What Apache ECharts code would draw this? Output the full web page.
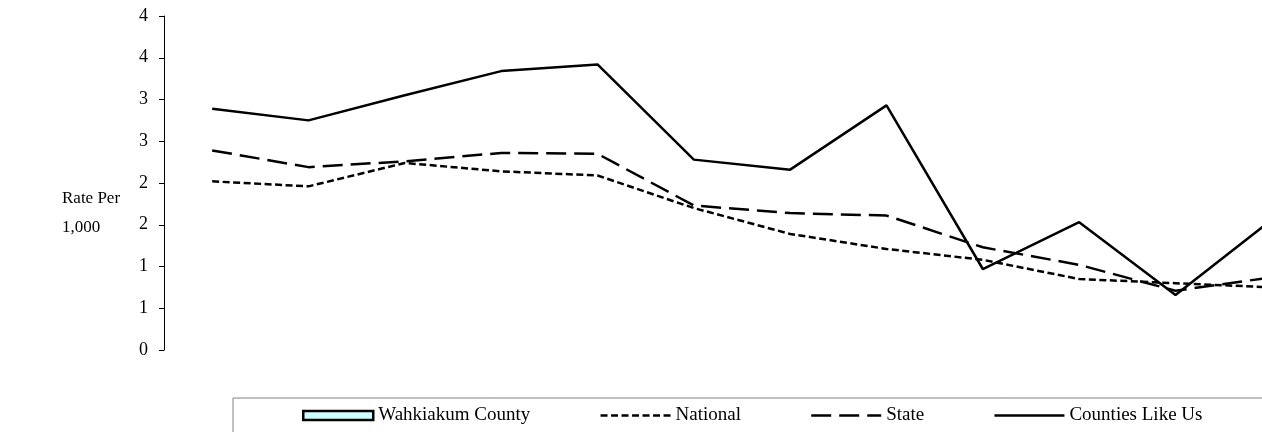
<!DOCTYPE html>
<html>
<head>
<meta charset="utf-8">
<title>Rate Per 1,000</title>
<script src="https://cdn.jsdelivr.net/npm/echarts@6/dist/echarts.min.js"></script>
<style>
  html, body { margin: 0; padding: 0; background: #ffffff; }
  #chart { width: 1262px; height: 432px; }
</style>
</head>
<body>
<div id="chart"></div>
<script>
// Yearly rates per 1,000
const years = ['1995', '1996', '1997', '1998', '1999', '2000', '2001', '2002', '2003', '2004', '2005', '2006'];
const wahkiakum = [null, null, null, null, null, null, null, null, null, null, null, null];
const national = [2.02, 1.96, 2.24, 2.14, 2.09, 1.70, 1.39, 1.21, 1.08, 0.85, 0.80, 0.75];
const state = [2.39, 2.19, 2.26, 2.36, 2.35, 1.73, 1.64, 1.61, 1.23, 1.02, 0.71, 0.87];
const countiesLikeUs = [2.89, 2.75, 3.05, 3.34, 3.42, 2.28, 2.16, 2.93, 0.97, 1.53, 0.66, 1.56];
const yTicks = { min: 0, max: 4, step: 0.5 };

const serif = 'Liberation Serif, Times New Roman, serif';
const chart = echarts.init(document.getElementById('chart'), null, { renderer: 'canvas' });

// Legend line samples hide the marker dot that line series add to their icon
const noMarker = { opacity: 0 };

chart.setOption({
  animation: false,
  backgroundColor: '#ffffff',
  // the plot runs on past the right edge of the page, so the last year is cut off
  grid: {
    left: 164, top: 16, width: 1156, height: 334,
    outerBoundsMode: 'none',
    containLabel: false
  },
  xAxis: {
    type: 'category',
    data: years,
    boundaryGap: true,
    axisLine: { show: false },
    axisTick: { show: false },
    axisLabel: { show: false },
    splitLine: { show: false }
  },
  yAxis: {
    type: 'value',
    min: yTicks.min,
    max: yTicks.max,
    interval: yTicks.step,
    axisLine: { show: true, lineStyle: { color: '#000000', width: 1 } },
    axisTick: { show: true, inside: false, length: 5, lineStyle: { color: '#000000', width: 1 } },
    axisLabel: {
      margin: 16,
      color: '#000000',
      fontFamily: serif,
      fontSize: 18,
      formatter: function (v) { return String(Math.round(v)); }
    },
    splitLine: { show: false }
  },
  graphic: [{
    type: 'text',
    left: 62,
    top: 184,
    style: {
      text: 'Rate Per\n1,000',
      fontFamily: serif,
      fontSize: 17,
      lineHeight: 29,
      fill: '#000000'
    }
  }],
  legend: {
    left: 233,
    top: 398,
    width: 1000,
    padding: [8, 140, 30, 69],
    itemWidth: 70,
    itemHeight: 14,
    itemGap: 69,
    borderColor: '#808080',
    borderWidth: 1,
    selectedMode: false,
    textStyle: { fontFamily: serif, fontSize: 19, color: '#000000' },
    data: [
      {
        name: 'Wahkiakum County',
        icon: 'path://M0,0H70V9H0Z',
        itemStyle: { color: '#CCFFFF', borderColor: '#000000', borderWidth: 2.5 }
      },
      { name: 'National', lineStyle: { width: 2.5 }, itemStyle: noMarker },
      { name: 'State', lineStyle: { width: 2.5 }, itemStyle: noMarker },
      { name: 'Counties Like Us', lineStyle: { width: 2.5 }, itemStyle: noMarker }
    ]
  },
  series: [
    {
      name: 'Wahkiakum County',
      type: 'bar',
      data: wahkiakum,
      itemStyle: { color: '#CCFFFF', borderColor: '#000000', borderWidth: 2 }
    },
    {
      name: 'National',
      type: 'line',
      data: national,
      symbol: 'none',
      lineStyle: { color: '#000000', width: 2.5, type: [7, 3.5] },
      itemStyle: { color: '#000000' }
    },
    {
      name: 'State',
      type: 'line',
      data: state,
      symbol: 'none',
      lineStyle: { color: '#000000', width: 2.5, type: [20, 8] },
      itemStyle: { color: '#000000' }
    },
    {
      name: 'Counties Like Us',
      type: 'line',
      data: countiesLikeUs,
      symbol: 'none',
      lineStyle: { color: '#000000', width: 2.5 },
      itemStyle: { color: '#000000' }
    }
  ]
});
</script>
</body>
</html>
